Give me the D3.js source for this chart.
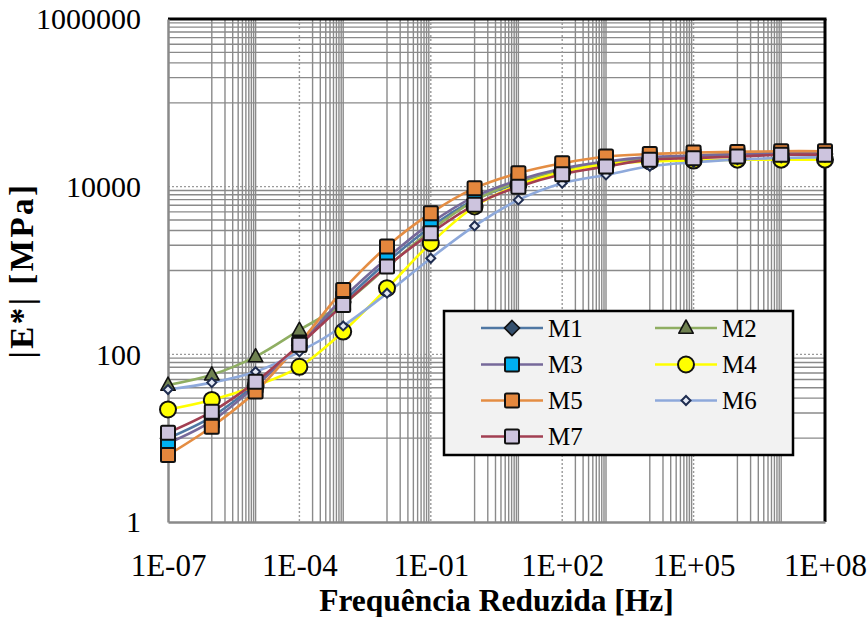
<!DOCTYPE html>
<html>
<head>
<meta charset="utf-8">
<script src="https://cdn.jsdelivr.net/npm/d3@7"></script>
<style>
  body { margin: 0; background: #fff; }
  svg { display: block; }
</style>
</head>
<body>
<svg id="chart" width="867" height="617"></svg>
<script>
// Reduced frequency (Hz), one point per decade
const frequencies = [1e-7, 1e-6, 1e-5, 1e-4, 1e-3, 1e-2, 1e-1, 1e0, 1e1, 1e2, 1e3, 1e4, 1e5, 1e6, 1e7, 1e8];

// |E*| (MPa) for each mixture
const m1 = [10, 18, 44, 128, 420, 1260, 3300, 7000, 11000, 15500, 19000, 21500, 23000, 24000, 24500, 24500];
const m2 = [43, 57, 94, 195, 400, 1100, 3000, 6800, 11500, 16000, 19500, 22000, 23500, 24500, 25000, 25500];
const m3 = [8.7, 16, 42, 130, 470, 1400, 3670, 7600, 12000, 16500, 20000, 22500, 23500, 24500, 25000, 25000];
const m4 = [22, 28.6, 42, 71, 187, 615, 2120, 5800, 10500, 15000, 18500, 20000, 20500, 21000, 21000, 21000];
const m5 = [6.3, 13.7, 36, 135, 587, 1930, 4830, 9600, 14500, 19000, 22900, 24500, 25500, 26000, 26500, 26500];
const m6 = [38, 46, 62, 107, 218, 536, 1400, 3400, 6950, 11000, 13800, 17500, 19500, 21000, 22000, 22500];
const m7 = [11.6, 20.7, 47, 130, 389, 1114, 2790, 6070, 10000, 14100, 17400, 21000, 21900, 22900, 24000, 24000];

const seriesNames = ["M1", "M2", "M3", "M4", "M5", "M6", "M7"];

const xTickValues = [1e-7, 1e-4, 1e-1, 1e2, 1e5, 1e8];
const xTickLabels = ["1E-07", "1E-04", "1E-01", "1E+02", "1E+05", "1E+08"];
const yTickValues = [1, 100, 10000, 1000000];
const yTickLabels = ["1", "100", "10000", "1000000"];

const SERIF = "Liberation Serif";

// Styling per series
const styles = {
  M1: { line: "#4f77a3", shape: "diamond", size: 7.5, fill: "#34506e", stroke: "#111", sw: 1.6 },
  M2: { line: "#8fae62", shape: "triangle", size: 8, fill: "#6f8150", stroke: "#111", sw: 1.6 },
  M3: { line: "#76699a", shape: "square", size: 7, fill: "#00b0f0", stroke: "#111", sw: 2 },
  M4: { line: "#ffff00", shape: "circle", size: 8, fill: "#ffff00", stroke: "#111", sw: 2 },
  M5: { line: "#e48d43", shape: "square", size: 7, fill: "#e4873d", stroke: "#111", sw: 2 },
  M6: { line: "#8ea9db", shape: "diamond", size: 4.5, fill: "#e4e9f5", stroke: "#1f2d50", sw: 2 },
  M7: { line: "#a23f52", shape: "square", size: 7, fill: "#cdc4de", stroke: "#111", sw: 2 }
};

const seriesData = { M1: m1, M2: m2, M3: m3, M4: m4, M5: m5, M6: m6, M7: m7 };
const series = seriesNames.map(name => ({
  name,
  points: frequencies.map((f, i) => ({ f, v: seriesData[name][i] }))
}));

const svg = d3.select("#chart");
const plot = { left: 168, right: 825, top: 19, bottom: 522 };

const x = d3.scaleLog().domain([1e-7, 1e8]).range([plot.left, plot.right]);
const y = d3.scaleLog().domain([1, 1e6]).range([plot.bottom, plot.top]);

// ---- gridlines ----
const xMajorExp = new Set([-7, -4, -1, 2, 5, 8]);
const xMinor = [];
for (let e = -7; e <= 7; e++) {
  if (!xMajorExp.has(e)) xMinor.push(Math.pow(10, e));
  if (e % 2 === 0) for (let k = 2; k <= 9; k++) xMinor.push(k * Math.pow(10, e));
}
const yMajorExp = new Set([0, 2, 4, 6]);
const yMinor = [];
for (let e = 0; e <= 5; e++) {
  if (!yMajorExp.has(e)) yMinor.push(Math.pow(10, e));
  if (e % 2 === 1) for (let k = 2; k <= 9; k++) yMinor.push(k * Math.pow(10, e));
}

const grid = svg.append("g");
grid.selectAll(".vx").data(xMinor).join("line")
  .attr("x1", d => x(d)).attr("x2", d => x(d))
  .attr("y1", plot.top).attr("y2", plot.bottom)
  .attr("stroke", "#8a8a8a").attr("stroke-width", 1.4);
grid.selectAll(".hy").data(yMinor).join("line")
  .attr("y1", d => y(d)).attr("y2", d => y(d))
  .attr("x1", plot.left).attr("x2", plot.right)
  .attr("stroke", "#8a8a8a").attr("stroke-width", 1.4);
grid.selectAll(".vxm").data(xTickValues.slice(1, -1)).join("line")
  .attr("x1", d => x(d)).attr("x2", d => x(d))
  .attr("y1", plot.top).attr("y2", plot.bottom)
  .attr("stroke", "#9a9a9a").attr("stroke-width", 1.4).attr("stroke-dasharray", "2,2");
grid.selectAll(".hym").data(yTickValues.slice(1, -1)).join("line")
  .attr("y1", d => y(d)).attr("y2", d => y(d))
  .attr("x1", plot.left).attr("x2", plot.right)
  .attr("stroke", "#9a9a9a").attr("stroke-width", 1.4).attr("stroke-dasharray", "2,2");

// ---- frame: black top/right, grey axes left/bottom ----
svg.append("line").attr("x1", plot.left).attr("x2", plot.right + 1.5)
  .attr("y1", plot.top).attr("y2", plot.top).attr("stroke", "#000").attr("stroke-width", 3);
svg.append("line").attr("x1", plot.right).attr("x2", plot.right)
  .attr("y1", plot.top).attr("y2", plot.bottom).attr("stroke", "#000").attr("stroke-width", 3);

// ---- axes ----
const xAxis = d3.axisBottom(x).tickValues(xTickValues)
  .tickFormat((d, i) => xTickLabels[i]).tickSize(0);
const gx = svg.append("g").attr("transform", `translate(0,${plot.bottom})`).call(xAxis)
  .attr("font-family", SERIF).attr("font-size", 31);
gx.select(".domain").attr("stroke", "#8a8a8a").attr("stroke-width", 2.5);
gx.selectAll("text").attr("y", 54).attr("dy", 0)
  .attr("font-family", SERIF).attr("font-size", 31).attr("fill", "#000");

const yAxis = d3.axisLeft(y).tickValues(yTickValues)
  .tickFormat((d, i) => yTickLabels[i]).tickSize(0).tickPadding(27);
const gy = svg.append("g").attr("transform", `translate(${plot.left},0)`).call(yAxis)
  .attr("font-family", SERIF).attr("font-size", 30);
gy.select(".domain").attr("stroke", "#8a8a8a").attr("stroke-width", 2.5);
gy.selectAll("text").attr("dy", "0.33em")
  .attr("font-family", SERIF).attr("font-size", 30).attr("fill", "#000");

// ---- titles ----
svg.append("text")
  .attr("x", (plot.left + plot.right) / 2).attr("y", 611)
  .attr("text-anchor", "middle")
  .attr("font-family", SERIF).attr("font-size", 31.5).attr("font-weight", "bold")
  .text("Frequência Reduzida [Hz]");
svg.append("text")
  .attr("transform", `translate(33,${(plot.top + plot.bottom) / 2}) rotate(-90)`)
  .attr("text-anchor", "middle")
  .attr("font-family", SERIF).attr("font-size", 33).attr("font-weight", "bold")
  .attr("letter-spacing", 2.5)
  .text("|E*| [MPa]");

// ---- marker drawing ----
function drawMarker(g, st, cx, cy) {
  const s = st.size;
  if (st.shape === "square") {
    g.append("rect").attr("x", cx - s).attr("y", cy - s).attr("width", 2 * s).attr("height", 2 * s)
      .attr("rx", 1.5).attr("fill", st.fill).attr("stroke", st.stroke).attr("stroke-width", st.sw);
  } else if (st.shape === "circle") {
    g.append("circle").attr("cx", cx).attr("cy", cy).attr("r", s)
      .attr("fill", st.fill).attr("stroke", st.stroke).attr("stroke-width", st.sw);
  } else if (st.shape === "diamond") {
    g.append("path").attr("d", `M${cx},${cy - s}L${cx + s},${cy}L${cx},${cy + s}L${cx - s},${cy}Z`)
      .attr("fill", st.fill).attr("stroke", st.stroke).attr("stroke-width", st.sw);
  } else if (st.shape === "triangle") {
    g.append("path").attr("d", `M${cx},${cy - s}L${cx + s * 0.9},${cy + s * 0.65}L${cx - s * 0.9},${cy + s * 0.65}Z`)
      .attr("fill", st.fill).attr("stroke", st.stroke).attr("stroke-width", st.sw)
      .attr("stroke-linejoin", "round");
  }
}

// ---- series lines ----
const line = d3.line().x(d => x(d.f)).y(d => y(d.v)).curve(d3.curveCatmullRom.alpha(0.5));
const linesG = svg.append("g");
series.forEach(s => {
  linesG.append("path").datum(s.points).attr("d", line)
    .attr("fill", "none").attr("stroke", styles[s.name].line).attr("stroke-width", 2.6);
});

// ---- series markers ----
const markersG = svg.append("g");
series.forEach(s => {
  s.points.forEach(p => drawMarker(markersG, styles[s.name], x(p.f), y(p.v)));
});

// ---- legend ----
const legend = svg.append("g");
legend.append("rect").attr("x", 444).attr("y", 311).attr("width", 349).attr("height", 144)
  .attr("fill", "#f2f2f2").attr("stroke", "#000").attr("stroke-width", 2.5);
const legendCols = [
  { names: ["M1", "M3", "M5", "M7"], x1: 481, x2: 543, mx: 512, tx: 548 },
  { names: ["M2", "M4", "M6"], x1: 655, x2: 717, mx: 686, tx: 722 }
];
const legendRowY = [328, 364.5, 400.5, 436.5];
legendCols.forEach(col => {
  col.names.forEach((name, i) => {
    const ly = legendRowY[i];
    const st = styles[name];
    legend.append("line").attr("x1", col.x1).attr("x2", col.x2).attr("y1", ly).attr("y2", ly)
      .attr("stroke", st.line).attr("stroke-width", 2.6);
    drawMarker(legend, st, col.mx, ly);
    legend.append("text").attr("x", col.tx).attr("y", ly).attr("dy", "0.35em")
      .attr("font-family", SERIF).attr("font-size", 25).attr("fill", "#000").text(name);
  });
});
</script>
</body>
</html>
